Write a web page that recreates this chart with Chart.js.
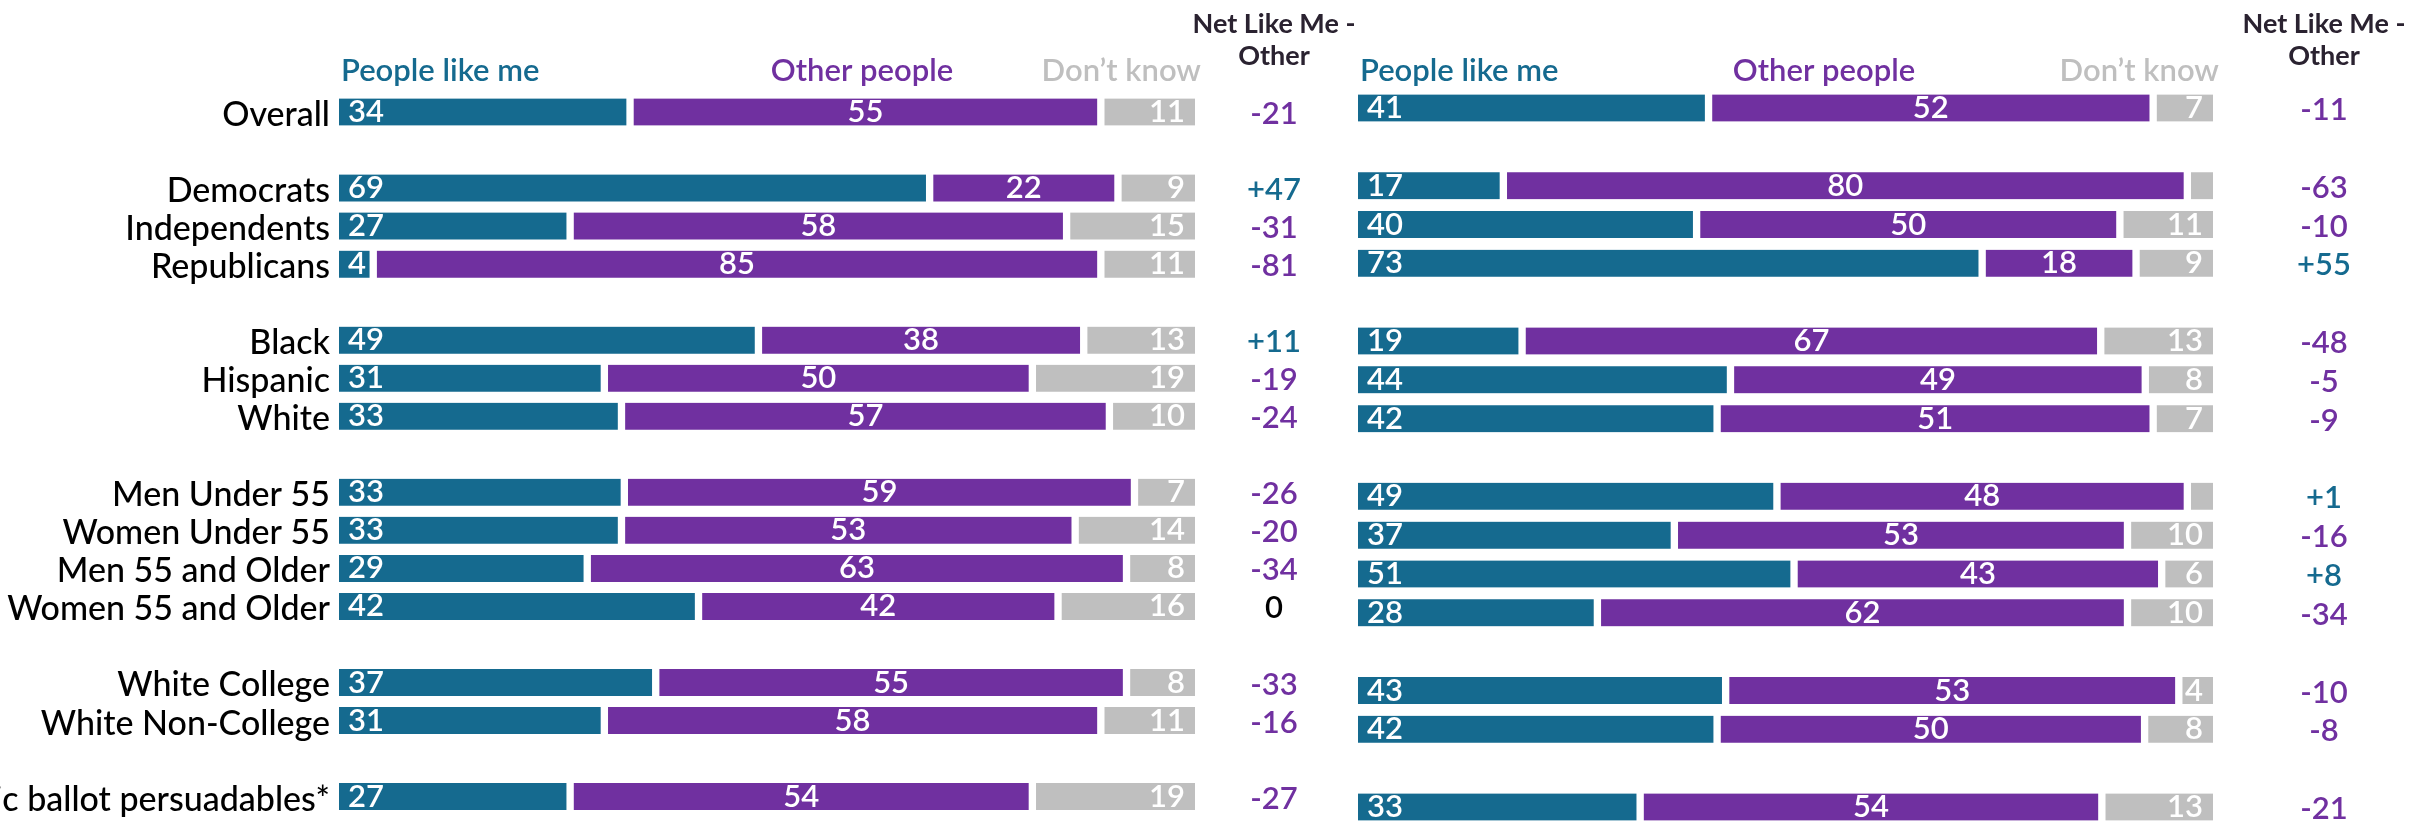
<!DOCTYPE html>
<html lang="en">
<head>
  <meta charset="UTF-8">
  <title>People like me vs. other people</title>
  <script src="https://cdn.jsdelivr.net/npm/chart.js"></script>
  <style>
    html, body { margin: 0; padding: 0; background: #fff; overflow: hidden; }
    .wrap { position: relative; width: 2422px; height: 826px; }
    .wrap canvas { position: absolute; left: 0; top: 0; }
  </style>
</head>
<body>
  <div class="wrap">
    <canvas id="leftChart" width="2422" height="826"></canvas>
    <canvas id="rightChart" width="2422" height="826"></canvas>
  </div>

  <script>
    // row labels (empty strings are the spacer rows between groups)
    const categories = ['Overall', '', 'Democrats', 'Independents', 'Republicans', '',
      'Black', 'Hispanic', 'White', '', 'Men Under 55', 'Women Under 55',
      'Men 55 and Older', 'Women 55 and Older', '', 'White College', 'White Non-College', '',
      'Generic ballot persuadables*'];

    const seriesNames = ['People like me', 'Other people', 'Don\u2019t know'];
    const netTitle = ['Net Like Me -', 'Other'];

    // left panel
    const leftLikeMe   = [34, null, 69, 27, 4, null, 49, 31, 33, null, 33, 33, 29, 42, null, 37, 31, null, 27];
    const leftOther    = [55, null, 22, 58, 85, null, 38, 50, 57, null, 59, 53, 63, 42, null, 55, 58, null, 54];
    const leftDontKnow = [11, null, 9, 15, 11, null, 13, 19, 10, null, 7, 14, 8, 16, null, 8, 11, null, 19];
    const leftNet      = [-21, null, 47, -31, -81, null, 11, -19, -24, null, -26, -20, -34, 0, null, -33, -16, null, -27];

    // right panel
    const rightLikeMe   = [41, null, 17, 40, 73, null, 19, 44, 42, null, 49, 37, 51, 28, null, 43, 42, null, 33];
    const rightOther    = [52, null, 80, 50, 18, null, 67, 49, 51, null, 48, 53, 43, 62, null, 53, 50, null, 54];
    const rightDontKnow = [7, null, 3, 11, 9, null, 13, 8, 7, null, 3, 10, 6, 10, null, 4, 8, null, 13];
    const rightNet      = [-11, null, -63, -10, 55, null, -48, -5, -9, null, 1, -16, 8, -34, null, -10, -8, null, -21];

    const TEAL = '#156a8f';
    const PURPLE = '#7030a0';
    const GRAY = '#bfbfbf';
    const DARK = '#2a2230';
    const FONT = 'Lato, "Noto Sans", sans-serif';

    function fmtNet(v) {
      return v > 0 ? '+' + v : String(v);
    }

    function makeChart(canvasId, likeMe, other, dontKnow, net, panel) {
      const raw = [likeMe, other, dontKnow];
      // 100% stacked: every row is scaled to its own total
      const shares = raw.map(series => series.map((v, i) => {
        if (v == null) return null;
        return v / (likeMe[i] + other[i] + dontKnow[i]) * 100;
      }));

      const colors = [TEAL, PURPLE, GRAY];
      const borders = [
        { top: 0, bottom: 0, left: 0, right: 4 },
        { top: 0, bottom: 0, left: 4, right: 4 },
        { top: 0, bottom: 0, left: 4, right: 0 }
      ];

      const panelPlugin = {
        id: 'panel' + canvasId,
        afterDatasetsDraw(chart) {
          const ctx = chart.ctx;
          ctx.save();
          ctx.font = '600 31px ' + FONT;
          ctx.fillStyle = '#fff';
          ctx.textBaseline = 'middle';
          raw.forEach((series, d) => {
            chart.getDatasetMeta(d).data.forEach((bar, i) => {
              const v = series[i];
              if (v == null || v < 4) return;
              const p = bar.getProps(['x', 'y', 'base'], true);
              const left = Math.min(p.x, p.base);
              const right = Math.max(p.x, p.base);
              if (d === 0) {
                ctx.textAlign = 'left';
                ctx.fillText(String(v), left + 9, p.y);
              } else if (d === 1) {
                ctx.textAlign = 'center';
                ctx.fillText(String(v), (left + right) / 2, p.y);
              } else {
                ctx.textAlign = 'right';
                ctx.fillText(String(v), right - 10, p.y);
              }
            });
          });
          ctx.restore();
        },
        afterDraw(chart) {
          const ctx = chart.ctx;
          const area = chart.chartArea;
          ctx.save();

          // column headers
          ctx.font = '600 31px ' + FONT;
          ctx.textBaseline = 'alphabetic';
          ctx.textAlign = 'left';
          ctx.fillStyle = TEAL;
          ctx.fillText(seriesNames[0], area.left + 2, 81);
          ctx.textAlign = 'center';
          ctx.fillStyle = PURPLE;
          ctx.fillText(seriesNames[1], panel.otherX, 81);
          ctx.textAlign = 'right';
          ctx.fillStyle = GRAY;
          ctx.fillText(seriesNames[2], area.right + 6, 81);

          // net column header
          ctx.font = 'bold 27px ' + FONT;
          ctx.textAlign = 'center';
          ctx.fillStyle = DARK;
          ctx.fillText(netTitle[0], panel.netX, 33);
          ctx.fillText(netTitle[1], panel.netX, 65);

          // net values
          ctx.font = '600 31px ' + FONT;
          ctx.textBaseline = 'middle';
          const rows = chart.getDatasetMeta(0).data;
          net.forEach((v, i) => {
            if (v == null) return;
            ctx.fillStyle = v > 0 ? TEAL : (v < 0 ? PURPLE : '#000');
            ctx.fillText(fmtNet(v), panel.netX, rows[i].y + 2);
          });
          ctx.restore();
        }
      };

      return new Chart(document.getElementById(canvasId).getContext('2d'), {
        type: 'bar',
        data: {
          labels: categories,
          datasets: shares.map((data, d) => ({
            label: seriesNames[d],
            data: data,
            backgroundColor: colors[d],
            borderColor: '#fff',
            borderWidth: borders[d],
            borderSkipped: false,
            barThickness: 27,
            clip: false
          }))
        },
        options: {
          indexAxis: 'y',
          responsive: false,
          animation: false,
          layout: { padding: panel.padding },
          plugins: {
            legend: { display: false },
            tooltip: { enabled: false }
          },
          scales: {
            x: { stacked: true, min: 0, max: 100, display: false },
            y: {
              stacked: true,
              offset: false,
              display: panel.showLabels,
              grid: { display: false, drawTicks: false },
              border: { display: false },
              ticks: {
                autoSkip: false,
                padding: 9,
                labelOffset: 3,
                color: '#000',
                font: { family: FONT, size: 34, weight: '500' }
              },
              afterFit(scale) { scale.width = panel.labelWidth; }
            }
          }
        },
        plugins: [panelPlugin]
      });
    }

    makeChart('leftChart', leftLikeMe, leftOther, leftDontKnow, leftNet, {
      padding: { left: 0, right: 1227, top: 112, bottom: 15 },
      showLabels: true,
      labelWidth: 339,
      otherX: 862,
      netX: 1274
    });

    makeChart('rightChart', rightLikeMe, rightOther, rightDontKnow, rightNet, {
      padding: { left: 1358, right: 209, top: 108, bottom: 19 },
      showLabels: false,
      labelWidth: 0,
      otherX: 1824,
      netX: 2324
    });
  </script>
</body>
</html>
